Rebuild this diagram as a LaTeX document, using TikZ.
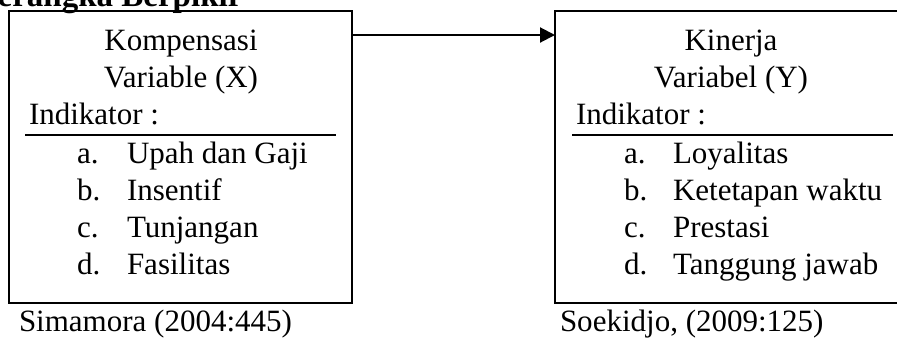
\documentclass[tikz,border=0pt]{standalone}
\usepackage{fontspec}
\setmainfont{Liberation Serif}
\usetikzlibrary{arrows.meta}
\begin{document}
\begin{tikzpicture}[x=0.5pt,y=-0.5pt,
  every node/.style={inner sep=0pt,outer sep=0pt,font=\fontsize{15.5pt}{18.5pt}\selectfont},
  varbox/.style={draw,line width=0.65pt,rectangle,minimum height=146pt},
  rule/.style={line width=1pt},
  link/.style={line width=1pt,-{Triangle[length=7.5pt,width=7.5pt]}},
  txt/.style={anchor=base west},
  ctr/.style={anchor=base},
]
\useasboundingbox (0,0) rectangle (897,338);
\clip (0,0) rectangle (897,338);

% heading (runs past the top edge)
\node[txt,font=\fontsize{16.5pt}{19pt}\selectfont\bfseries] (title) at (-28,6) {Kerangka Berpikir};

% the two variable boxes
\node[varbox,minimum width=171.5pt] (L) at (180.5,157) {};
\node[varbox,minimum width=173.5pt] (R) at (728.5,157) {};

% relation X -> Y
\coordinate (lvl) at (0,35);
\draw[link] (L.east |- lvl) -- (R.west |- lvl);

% left box: Kompensasi
\node[ctr] (lh1) at (181,50) {Kompensasi};
\node[ctr] (lh2) at (181,87) {Variable (X)};
\node[txt] (li) at (29,124) {Indikator :};
\coordinate (lr1) at (25,135);
\coordinate (lr2) at (336,135);
\draw[rule] (lr1) -- (lr2);
\node[txt] (la) at (77,163) {a.};  \node[txt] (lat) at (127,163) {Upah dan Gaji};
\node[txt] (lb) at (77,200) {b.};  \node[txt] (lbt) at (127,200) {Insentif};
\node[txt] (lc) at (77,237) {c.};  \node[txt] (lct) at (127,237) {Tunjangan};
\node[txt] (ld) at (77,274) {d.};  \node[txt] (ldt) at (127,274) {Fasilitas};
\node[txt] (lsrc) at (19,331) {Simamora (2004:445)};

% right box: Kinerja
\node[ctr] (rh1) at (731,50) {Kinerja};
\node[ctr] (rh2) at (731,87) {Variabel (Y)};
\node[txt] (ri) at (576,124) {Indikator :};
\coordinate (rr1) at (572,135);
\coordinate (rr2) at (893,135);
\draw[rule] (rr1) -- (rr2);
\node[txt] (ra) at (624,163) {a.};  \node[txt] (rat) at (673,163) {Loyalitas};
\node[txt] (rb) at (624,200) {b.};  \node[txt] (rbt) at (673,200) {Ketetapan waktu};
\node[txt] (rc) at (624,237) {c.};  \node[txt] (rct) at (673,237) {Prestasi};
\node[txt] (rd) at (624,274) {d.};  \node[txt] (rdt) at (673,274) {Tanggung jawab};
\node[txt] (rsrc) at (560,331) {Soekidjo, (2009:125)};
\end{tikzpicture}
\end{document}
